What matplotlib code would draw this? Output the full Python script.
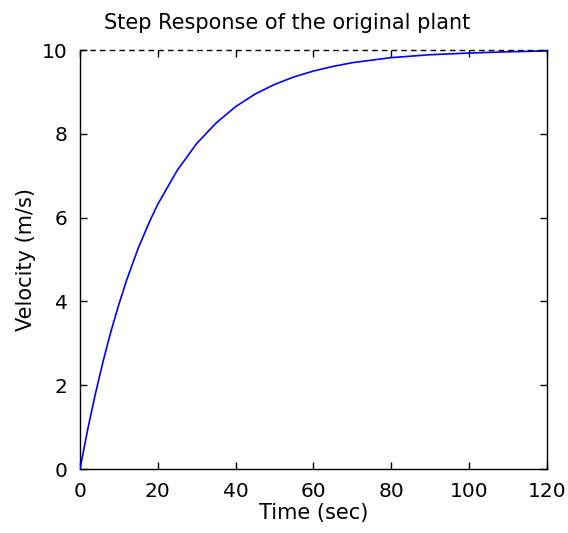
import matplotlib
matplotlib.use("Agg")
import matplotlib.pyplot as plt

# step response values
time_s = [0, 2, 4, 6, 8, 10, 12, 15, 18, 20, 25, 30, 35, 40, 45, 50,
          55, 60, 65, 70, 75, 80, 90, 100, 110, 120]
velocity = [0, 0.95, 1.81, 2.59, 3.30, 3.93, 4.51, 5.28, 5.93, 6.32, 7.13,
            7.77, 8.26, 8.65, 8.95, 9.18, 9.36, 9.50, 9.61, 9.70, 9.76,
            9.82, 9.89, 9.93, 9.96, 9.98]
final_value = 10
x_ticks = [0, 20, 40, 60, 80, 100, 120]
y_ticks = [0, 2, 4, 6, 8, 10]

plt.rcParams['font.family'] = ['DejaVu Sans']
plt.rcParams['font.size'] = 15

fig = plt.figure(figsize=(5.68, 5.33), dpi=100)
ax = fig.add_axes([0.1408, 0.120, 0.822, 0.786])

ax.plot(time_s, velocity, color="#0000ff", linewidth=1.2, zorder=3)
ax.axhline(final_value, color="black", linestyle=(0, (4, 3)), linewidth=1.0,
           zorder=4, clip_on=False)

ax.set_xlim(0, 120)
ax.set_ylim(0, 10)
ax.set_xticks(x_ticks)
ax.set_yticks(y_ticks)
ax.tick_params(direction="in", top=True, right=True, length=5, width=1,
               labelsize=14.5, pad=9)
ax.spines["top"].set_visible(False)
for s in ["left", "right", "bottom"]:
    ax.spines[s].set_linewidth(1.0)

ax.set_title("Step Response of the original plant", fontsize=15, pad=15, x=0.443)
ax.set_xlabel("Time (sec)", fontsize=15, labelpad=2)
ax.set_ylabel("Velocity (m/s)", fontsize=15, labelpad=4)

fig.savefig("out.png", dpi=100, facecolor="white")
